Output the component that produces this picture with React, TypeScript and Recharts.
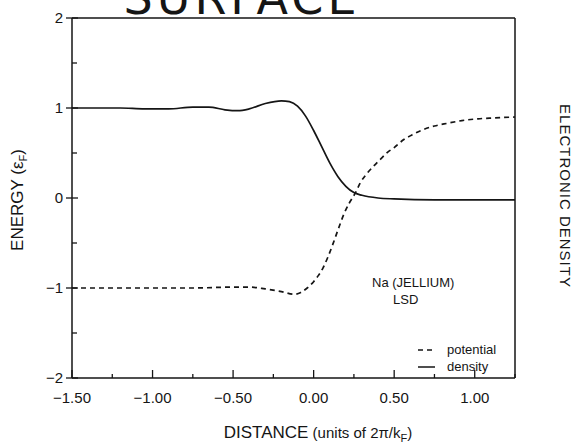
import React from "react";
import { LineChart, Line, XAxis, YAxis, ReferenceLine } from "recharts";

// solid curve: electronic density (normalised)
const densityX = [-1.5, -1.35, -1.2, -1.05, -0.9, -0.75, -0.65, -0.55, -0.47, -0.4, -0.3, -0.2, -0.15, -0.1, -0.05, 0.0, 0.05, 0.1, 0.15, 0.2, 0.25, 0.3, 0.4, 0.5, 0.75, 1.0, 1.25];
const densityY = [1.0, 1.0, 1.0, 0.99, 0.99, 1.01, 1.01, 0.98, 0.97, 0.99, 1.05, 1.08, 1.07, 1.02, 0.91, 0.75, 0.57, 0.39, 0.24, 0.13, 0.06, 0.03, 0.0, -0.01, -0.02, -0.02, -0.02];

// dashed curve: potential
const potentialX = [-1.5, -1.25, -1.0, -0.75, -0.5, -0.4, -0.3, -0.2, -0.12, -0.08, -0.04, 0.0, 0.03, 0.06, 0.09, 0.12, 0.15, 0.19, 0.22, 0.26, 0.29, 0.33, 0.37, 0.42, 0.46, 0.5, 0.56, 0.62, 0.68, 0.75, 0.83, 0.92, 1.02, 1.12, 1.25];
const potentialY = [-1.0, -1.0, -1.0, -1.0, -0.99, -0.99, -1.01, -1.04, -1.07, -1.05, -1.0, -0.93, -0.86, -0.77, -0.65, -0.51, -0.36, -0.17, -0.06, 0.06, 0.17, 0.27, 0.35, 0.44, 0.51, 0.56, 0.65, 0.71, 0.76, 0.8, 0.83, 0.86, 0.88, 0.89, 0.9];

const xTicks = [-1.5, -1.25, -1.0, -0.75, -0.5, -0.25, 0, 0.25, 0.5, 0.75, 1.0, 1.25];
const yTicks = [-2, -1.5, -1, -0.5, 0, 0.5, 1, 1.5, 2];

const density = densityX.map((x, i) => ({ x, y: densityY[i] }));
const potential = potentialX.map((x, i) => ({ x, y: potentialY[i] }));

const font = "'Liberation Sans', Arial, sans-serif";
const ink = "#151515";

const fmtX = (v: number) => (v < 0 ? "\u2212" : "") + Math.abs(v).toFixed(2);
const fmtY = (v: number) => (v < 0 ? "\u2212" : "") + Math.abs(v);

function LeftTick({ x, y, payload }: any) {
  const v = payload.value;
  const major = Number.isInteger(v);
  return (
    <g>
      <line x1={major ? x - 6 : x} x2={major ? x + 6 : x + 5} y1={y} y2={y} stroke={ink} strokeWidth={1.3} />
      {major && (
        <text x={x - 9} y={y + 5} textAnchor="end" fontSize={15} fontFamily={font} fill={ink}>
          {fmtY(v)}
        </text>
      )}
    </g>
  );
}

function RightTick({ x, y, payload }: any) {
  const major = Number.isInteger(payload.value);
  return <line x1={x} x2={x - (major ? 7 : 4)} y1={y} y2={y} stroke={ink} strokeWidth={1.3} />;
}

function BottomTick({ x, y, payload }: any) {
  const v = payload.value;
  const major = Math.abs(v * 2 - Math.round(v * 2)) < 1e-6;
  return (
    <g>
      <line x1={x} x2={x} y1={y} y2={y - (major ? 8 : 4)} stroke={ink} strokeWidth={1.3} />
      {major && (
        <text x={x} y={y + 25} textAnchor="middle" fontSize={15} fontFamily={font} fill={ink}>
          {fmtX(v)}
        </text>
      )}
    </g>
  );
}

export default function App() {
  return (
    <div style={{ position: "absolute", left: 0, top: 0, width: 582, height: 444, background: "#fff" }}>
      <LineChart width={582} height={444} margin={{ top: 18, right: 0, bottom: 0, left: 0 }}>
        <XAxis
          type="number"
          dataKey="x"
          domain={[-1.5, 1.25]}
          ticks={xTicks}
          allowDataOverflow
          height={66}
          tickSize={0}
          tickMargin={0}
          tickLine={false}
          axisLine={{ stroke: ink, strokeWidth: 1.5 }}
          tick={BottomTick}
          interval={0}
        />
        <YAxis
          yAxisId="left"
          type="number"
          dataKey="y"
          domain={[-2, 2]}
          ticks={yTicks}
          width={72}
          tickSize={0}
          tickMargin={0}
          tickLine={false}
          axisLine={{ stroke: ink, strokeWidth: 1.5 }}
          tick={LeftTick}
          interval={0}
        />
        <YAxis
          yAxisId="right"
          orientation="right"
          type="number"
          domain={[-2, 2]}
          ticks={yTicks}
          width={67}
          tickSize={0}
          tickMargin={0}
          tickLine={false}
          axisLine={{ stroke: ink, strokeWidth: 1.5 }}
          tick={RightTick}
          interval={0}
        />
        <ReferenceLine yAxisId="left" y={2} stroke={ink} strokeWidth={1.5} />
        <Line
          yAxisId="left"
          data={potential}
          dataKey="y"
          type="monotone"
          stroke={ink}
          strokeWidth={1.7}
          strokeDasharray="5 4"
          dot={false}
          isAnimationActive={false}
        />
        <Line
          yAxisId="left"
          data={density}
          dataKey="y"
          type="monotone"
          stroke={ink}
          strokeWidth={1.7}
          dot={false}
          isAnimationActive={false}
        />
      </LineChart>
      <svg
        width={582}
        height={444}
        style={{ position: "absolute", left: 0, top: 0, pointerEvents: "none" }}
        fontFamily={font}
        fill={ink}
      >
        <text x={242} y={14} textAnchor="middle" fontSize={46} letterSpacing={4} fontFamily="'DejaVu Sans', sans-serif">
          SURFACE
        </text>
        <text transform="translate(23,200) rotate(-90)" textAnchor="middle" fontSize={17}>
          ENERGY (ε<tspan fontSize={11} dy={4}>F</tspan>
          <tspan dy={-4}>)</tspan>
        </text>
        <text transform="translate(560,196) rotate(90)" textAnchor="middle" fontSize={15} letterSpacing={1}>
          ELECTRONIC DENSITY
        </text>
        <text x={318} y={438} textAnchor="middle" fontSize={17}>
          DISTANCE
          <tspan fontSize={15}> (units of 2π/k</tspan>
          <tspan fontSize={11} dy={4}>F</tspan>
          <tspan fontSize={15} dy={-4}>)</tspan>
        </text>
        <text x={372} y={287} fontSize={13}>Na (JELLIUM)</text>
        <text x={393} y={304} fontSize={13}>LSD</text>
        <line x1={418} x2={435} y1={350} y2={350} stroke={ink} strokeWidth={1.5} strokeDasharray="5 4" />
        <text x={447} y={354} fontSize={13}>potential</text>
        <line x1={418} x2={435} y1={367} y2={367} stroke={ink} strokeWidth={1.5} />
        <text x={447} y={371} fontSize={13}>density</text>
      </svg>
    </div>
  );
}
